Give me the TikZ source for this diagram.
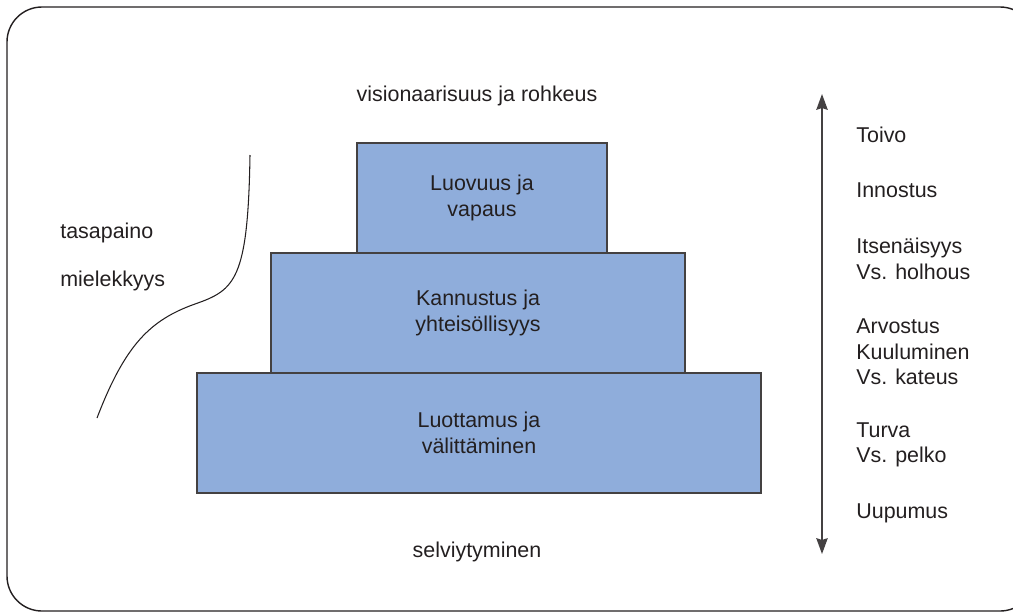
\documentclass[tikz,border=0pt]{standalone}
\usepackage{fontspec}
\setmainfont{Liberation Sans}
\usetikzlibrary{arrows.meta}
\definecolor{boxblue}{RGB}{143,173,219}
\definecolor{ink}{RGB}{35,31,32}

\begin{document}
\begin{tikzpicture}[x=0.02cm, y=-0.02cm, font=\fontsize{12.2}{14.6}\selectfont, text=ink,
        level/.style={draw=ink!85, line width=1pt, fill=boxblue, align=center, inner sep=0pt},
        side/.style={align=left, anchor=west, inner sep=0pt}]
        \useasboundingbox (0,0) rectangle (1013,613);
        \draw[ink, line width=0.8pt, rounded corners=0.7cm] (7,7) rectangle (1035,611);

        % pyramid
        \node[level, minimum width=11.28cm, minimum height=2.4cm] (luottamus) at (479,433) {Luottamus ja\\välittäminen};
        \node[level, minimum width=8.28cm, minimum height=2.4cm] (kannustus) at (478,313) {Kannustus ja\\yhteisöllisyys};
        \node[level, minimum width=5cm, minimum height=2.2cm] (luovuus) at (482,198) {Luovuus ja\\vapaus};
        \node (vision) at (477,96) {visionaarisuus ja rohkeus};
        \node (selviytyminen) at (477,552) {selviytyminen};

        % left side
        \node[side] (tasapaino) at (60,233) {tasapaino};
        \node[side] (mielekkyys) at (60,281) {mielekkyys};
        \draw[ink, line width=0.6pt] (97,418) .. controls (125,345) and (150,320) .. (195,304) .. controls (235,290) and (248,280) .. (250,155);

        % right side
        \coordinate (ylos) at (822,94);
        \coordinate (alas) at (822,554);
        \draw[ink!85, line width=0.8pt, {Stealth[length=9pt,width=6.5pt,inset=1pt]}-{Stealth[length=9pt,width=6.5pt,inset=1pt]}] (alas) -- (ylos);
        \node[side] (toivo) at (856,135) {Toivo};
        \node[side] (innostus) at (856,190) {Innostus};
        \node[side] (itsenaisyys) at (856,259) {Itsenäisyys\\Vs. holhous};
        \node[side] (arvostus) at (856,352) {Arvostus\\Kuuluminen\\Vs. kateus};
        \node[side] (turva) at (856,445) {Turva\\Vs. pelko};
        \node[side] (uupumus) at (856,513) {Uupumus};
    \end{tikzpicture}
\end{document}
